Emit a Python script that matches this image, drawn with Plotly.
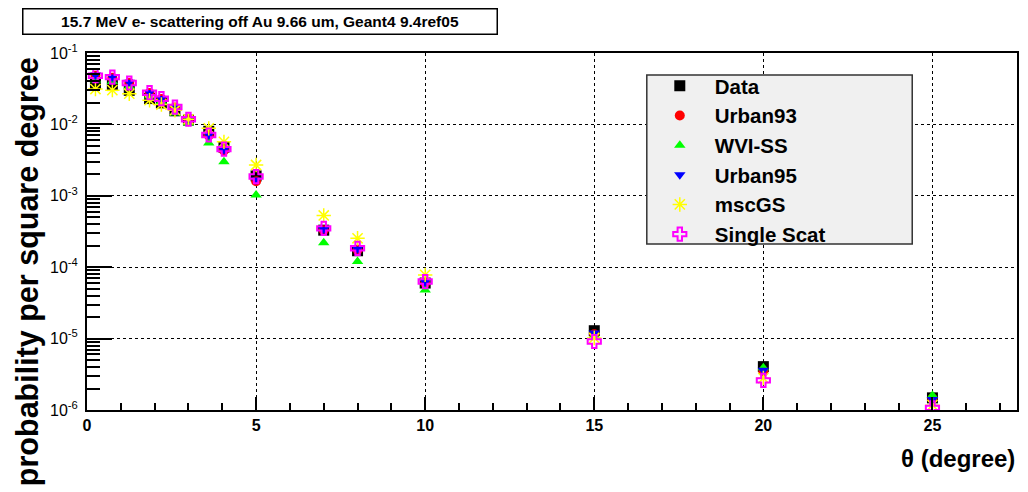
import plotly.graph_objects as go

theta = [0.25, 0.75, 1.25, 1.85, 2.2, 2.6, 3.0, 3.6, 4.05, 5.0, 7.0, 8.0, 10.0, 15.0, 20.0, 25.0]

data_vals = [0.037, 0.035, 0.030, 0.023, 0.020, 0.0155, 0.0115, 0.0080, 0.0048, 0.0019,
             0.00033, 0.00017, 6.0e-5, 1.29e-5, 4.05e-6, 1.48e-6]
urban93 = [0.048, 0.045, 0.038, 0.0275, 0.0227, 0.0172, 0.0117, 0.0070, 0.0043, 0.0016,
           0.00033, 0.000175, 6.0e-5, 1.15e-5, 3.5e-6, 1.45e-6]
wvi_ss = [0.042, 0.040, 0.034, 0.025, 0.021, 0.0145, 0.0105, 0.0055, 0.0030, 0.00103,
          0.00022, 0.000120, 4.8e-5, 1.1e-5, 3.9e-6, 1.6e-6]
urban95 = [0.049, 0.046, 0.039, 0.028, 0.023, 0.0175, 0.0118, 0.0071, 0.0044, 0.00166,
           0.00034, 0.00018, 6.2e-5, 1.2e-5, 3.6e-6, 1.4e-6]
mscgs = [0.0313, 0.0302, 0.0269, 0.0218, 0.019, 0.0158, 0.0118, 0.0088, 0.0057, 0.0027,
         0.00053, 0.000254, 7.8e-5, 1.02e-5, 2.8e-6, 1.17e-6]
single_scat = [0.048, 0.046, 0.038, 0.0278, 0.0229, 0.0175, 0.0118, 0.0071, 0.0045, 0.00186,
               0.00035, 0.000184, 6.3e-5, 9.1e-6, 2.6e-6, 1.07e-6]

ytick_vals = [1e-6, 1e-5, 1e-4, 1e-3, 1e-2, 1e-1]
ytick_text = ["10<sup>-6</sup>", "10<sup>-5</sup>", "10<sup>-4</sup>",
              "10<sup>-3</sup>", "10<sup>-2</sup>", "10<sup>-1</sup>"]

FONT = "Liberation Sans, Arial, sans-serif"

series = [
    ("Data", data_vals, dict(symbol="square", size=11, color="black")),
    ("Urban93", urban93, dict(symbol="circle", size=10, color="red")),
    ("WVI-SS", wvi_ss, dict(symbol="triangle-up", size=10, color="#00ff00")),
    ("Urban95", urban95, dict(symbol="triangle-down", size=10, color="blue")),
    ("mscGS", mscgs, dict(symbol="asterisk-open", size=12, color="yellow",
                          line=dict(color="yellow", width=1.5))),
    ("Single Scat", single_scat, dict(symbol="cross-open", size=11, color="magenta",
                                      line=dict(color="magenta", width=2))),
]

fig = go.Figure()
for name, vals, mk in series:
    fig.add_trace(go.Scatter(x=theta, y=vals, mode="markers", name=name, marker=mk))

L, R, T, B = 87, 9, 53, 82
W, H = 1028, 492
pw, ph = W - L - R, H - T - B

def px(xpix):
    return (xpix - L) / pw

def py(ypix):
    return 1 - (ypix - T) / ph

fig.update_layout(
    width=W, height=H,
    margin=dict(l=L, r=R, t=T, b=B),
    paper_bgcolor="white", plot_bgcolor="white",
    font=dict(family=FONT, color="black"),
    showlegend=True,
    legend=dict(
        x=px(646), y=py(66), xanchor="left", yanchor="top",
        bgcolor="rgba(0,0,0,0)", borderwidth=0,
        font=dict(family=FONT, size=20.5, color="black", weight="bold"),
        tracegroupgap=0, itemwidth=60,
    ),
    xaxis=dict(
        range=[0, 27.5], dtick=5, tick0=0,
        ticks="inside", ticklen=13, tickwidth=1.5, tickcolor="black",
        showline=True, linecolor="black", linewidth=2, mirror=True,
        showgrid=True, gridcolor="black", griddash="dot", gridwidth=1,
        zeroline=False,
        tickfont=dict(family=FONT, size=16, color="black", weight="bold"),
        minor=dict(dtick=1, ticks="inside", ticklen=7, tickwidth=1.5,
                   tickcolor="black", showgrid=False),
    ),
    yaxis=dict(
        type="log", range=[-6, -1],
        tickvals=ytick_vals, ticktext=ytick_text,
        ticks="inside", ticklen=25, tickwidth=1.5, tickcolor="black",
        showline=True, linecolor="black", linewidth=2, mirror=True,
        showgrid=True, gridcolor="black", griddash="dot", gridwidth=1,
        zeroline=False,
        tickfont=dict(family=FONT, size=16, color="black"),
        ticklabelstandoff=4,
        minor=dict(dtick="D1", ticks="inside", ticklen=13, tickwidth=1.5,
                   tickcolor="black", showgrid=False),
    ),
    shapes=[
        dict(type="rect", xref="paper", yref="paper",
             x0=px(648), x1=px(914), y0=py(244), y1=py(75),
             fillcolor="#f0f0f0", line=dict(color="#333333", width=1.5),
             layer="above"),
    ],
    annotations=[
        dict(text="<b>15.7 MeV e- scattering off Au 9.66 um, Geant4 9.4ref05</b>",
             xref="paper", yref="paper", x=px(22), y=py(8),
             xanchor="left", yanchor="top", showarrow=False,
             width=471, height=22, align="center",
             bordercolor="black", borderwidth=1.5, borderpad=1, bgcolor="white",
             font=dict(family=FONT, size=15.5, color="black")),
        dict(text="<b>probability per square degree</b>",
             xref="paper", yref="paper", x=px(27), y=py(272),
             xanchor="center", yanchor="middle", textangle=-90, showarrow=False,
             font=dict(family=FONT, size=30.5, color="black")),
        dict(text="<b>θ (degree)</b>",
             xref="paper", yref="paper", x=px(1019), y=py(458),
             xanchor="right", yanchor="middle", showarrow=False,
             font=dict(family=FONT, size=24, color="black")),
    ],
)

fig.write_html("out.html")
